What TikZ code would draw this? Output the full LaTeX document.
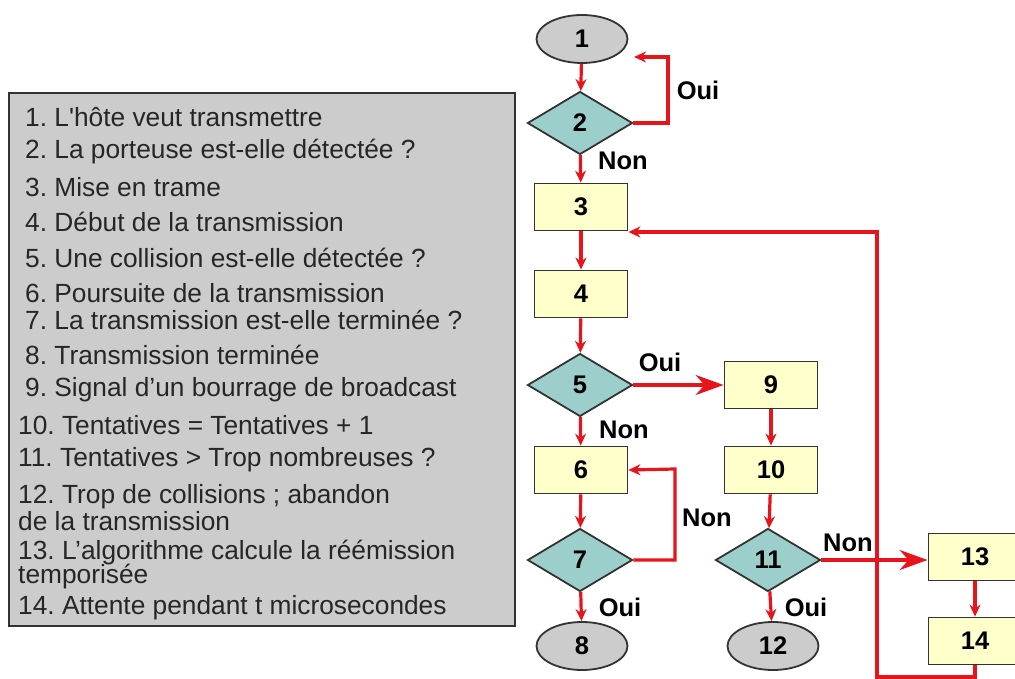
\documentclass[tikz,border=0pt]{standalone}
\usepackage{fontspec}
\setmainfont{Liberation Sans}
\usetikzlibrary{shapes.geometric,arrows.meta}
\definecolor{redline}{HTML}{E8141C}
\definecolor{teal}{HTML}{9CCFCC}
\definecolor{pale}{HTML}{FFFFCC}
\definecolor{greyfill}{HTML}{CCCCCC}
\definecolor{border}{HTML}{333333}
\newcommand{\fsz}{\fontsize{25.5}{28}\selectfont}
\newcommand{\lsz}{\fontsize{26.3}{28}\selectfont}
\tikzset{
  every node/.style={font=\fsz},
  procbox/.style={draw=border,line width=1.8pt,fill=pale,minimum width=93pt,minimum height=47pt,inner sep=0pt,font=\fsz\bfseries},
  decision/.style={diamond,aspect=1.67,draw=border,line width=1.8pt,fill=teal,minimum width=105pt,minimum height=63pt,inner sep=0pt,font=\fsz\bfseries},
  terminal/.style={ellipse,draw=border,line width=1.8pt,fill=greyfill,minimum width=91pt,minimum height=48pt,inner sep=0pt,font=\fsz\bfseries},
  flow/.style={draw=redline,line width=3.2pt,-{Stealth[length=12pt,width=11pt]}},
  bigflow/.style={draw=redline,line width=3.2pt,-{Stealth[length=28pt,width=20pt,inset=9pt]}},
  lab/.style={font=\fsz\bfseries,inner sep=0pt},
  legend/.style={anchor=west,inner sep=0pt,text=black!85,font=\lsz}
}
\begin{document}
\frenchspacing
\begin{tikzpicture}[x=1pt,y=-1pt]
\useasboundingbox (0,0) rectangle (1015,679);
% legend box
\node[draw=border,line width=1.8pt,fill=greyfill,minimum width=506pt,minimum height=533pt,anchor=north west,inner sep=0pt] (legendbox) at (8,92) {};
\node[legend] (t1) at (25,117) {1. L\textquotesingle hôte veut transmettre};
\node[legend] (t2) at (25,152) {2. La porteuse est-elle détectée ?};
\node[legend] (t3) at (25,187) {3. Mise en trame};
\node[legend] (t4) at (25,222) {4. Début de la transmission};
\node[legend] (t5) at (25,258) {5. Une collision est-elle détectée ?};
\node[legend] (t6) at (25,293) {6. Poursuite de la transmission};
\node[legend] (t7) at (25,320) {7. La transmission est-elle terminée ?};
\node[legend] (t8) at (25,355) {8. Transmission terminée};
\node[legend] (t9) at (25,390) {9. Signal d'un bourrage de broadcast};
\node[legend] (t10) at (18,425) {10. Tentatives = Tentatives + 1};
\node[legend] (t11) at (18,460) {11. Tentatives > Trop nombreuses ?};
\node[legend] (t12a) at (18,497) {12. Trop de collisions ; abandon};
\node[legend] (t12b) at (18,521) {de la transmission};
\node[legend] (t13a) at (18,553) {13. L'algorithme calcule la réémission};
\node[legend] (t13b) at (18,577) {temporisée};
\node[legend] (t14) at (18,608) {14. Attente pendant t microsecondes};
% flowchart nodes
\node[terminal] (n1) at (582,39) {1};
\node[decision] (n2) at (580,123) {2};
\node[procbox] (n3) at (581,207) {3};
\node[procbox] (n4) at (581,294) {4};
\node[decision] (n5) at (580,385) {5};
\node[procbox] (n9) at (771,385) {9};
\node[procbox] (n6) at (581,470) {6};
\node[procbox] (n10) at (771,470) {10};
\node[decision] (n7) at (580,560) {7};
\node[decision] (n11) at (768,560) {11};
\node[terminal] (n8) at (582,646) {8};
\node[terminal] (n12) at (773,646) {12};
\node[procbox] (n13) at (975,557) {13};
\node[procbox] (n14) at (975,641) {14};
\coordinate (cornerA) at (877,677);
\coordinate (cornerB) at (877,232);
% connectors
\draw[flow] (n1) -- (n2);
\draw[flow] (n2.east) -- (668,123) -- (668,57) -- (634,57);
\draw[flow] (n2) -- (n3);
\draw[flow] (n3) -- (n4);
\draw[flow] (n4) -- (n5);
\draw[bigflow] (n5) -- (n9);
\draw[flow] (n5) -- (n6);
\draw[flow] (n9) -- (n10);
\draw[flow] (n6) -- (n7);
\draw[flow] (n7.east) -- (675,560) -- (675,469) -- (n6.east);
\draw[flow] (n7) -- (n8);
\draw[flow] (n10) -- (n11);
\draw[flow] (n11) -- (n12);
\draw[flow] (n13) -- (n14);
\draw[flow] (n14.south) |- (cornerA) -- (cornerB) -- (n3.east |- cornerB);
\draw[bigflow] (n11.east) -- (n11.east -| n13.west);
% labels
\node[lab] (l2oui) at (698,90) {Oui};
\node[lab] (l2non) at (623,161) {Non};
\node[lab] (l5oui) at (660,362) {Oui};
\node[lab] (l5non) at (624,430) {Non};
\node[lab] (l7non) at (707,518) {Non};
\node[lab] (l7oui) at (620,607) {Oui};
\node[lab] (l11non) at (848,543) {Non};
\node[lab] (l11oui) at (806,607) {Oui};
\end{tikzpicture}
\end{document}
